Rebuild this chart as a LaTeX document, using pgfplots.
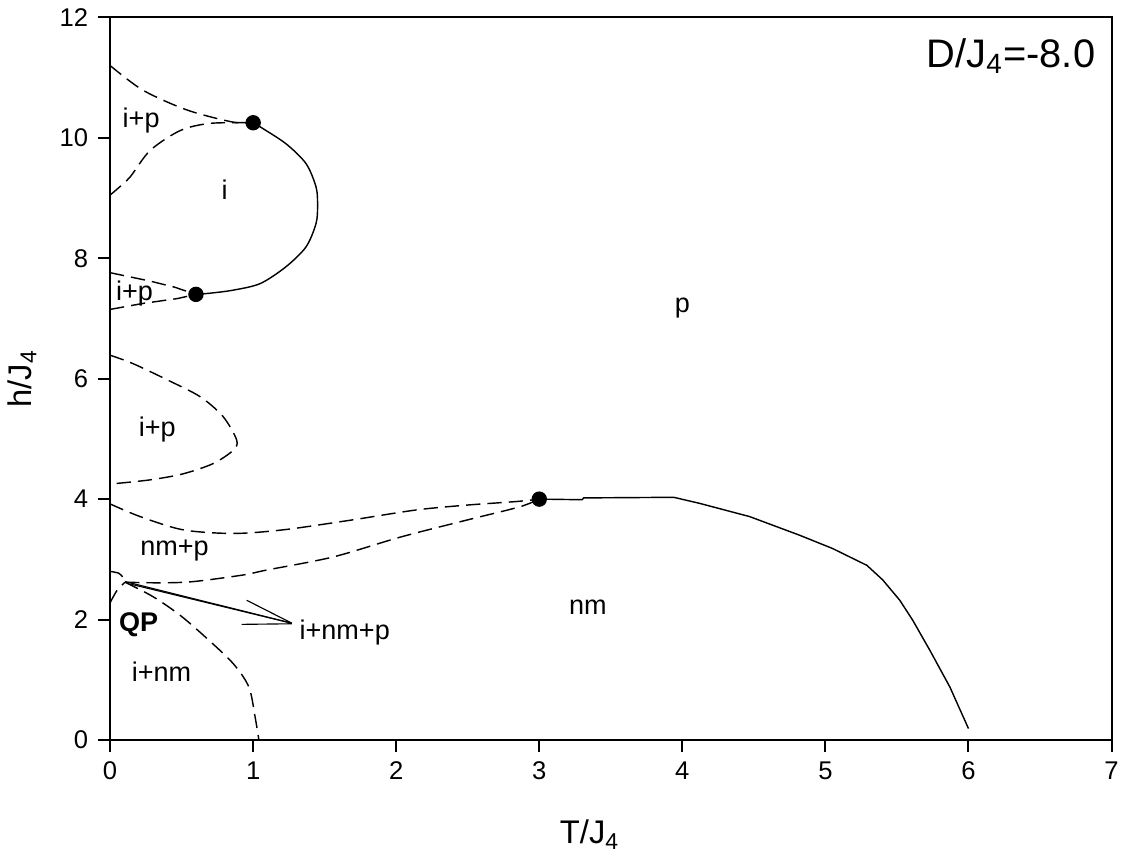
\documentclass[border=0pt]{standalone}
\usepackage{fontspec}
\setmainfont{Liberation Sans}
\usepackage{pgfplots}
\pgfplotsset{compat=1.18}
\begin{document}
\begin{tikzpicture}[
  dsh/.style={black, line width=0.5pt, dash pattern=on 5pt off 2.5pt},
  sol/.style={black, line width=0.5pt},
  lab/.style={font=\fontsize{9.5}{11}\selectfont, inner sep=0pt, anchor=center}]
\begin{axis}[
  scale only axis, width=352pt, height=254pt,
  xmin=0, xmax=7, ymin=0, ymax=12,
  xtick={0,1,...,7}, ytick={0,2,...,12},
  tick align=outside, tick pos=left, major tick length=4.2pt,
  axis line style={line width=0.7pt},
  every tick/.style={line width=0.7pt, black},
  /pgf/number format/assume math mode=true,
  ticklabel style={font=\fontsize{9}{10}\selectfont},
  xlabel={T/J\textsubscript{4}}, ylabel={h/J\textsubscript{4}},
  label style={font=\fontsize{11.5}{13}\selectfont},
  xlabel style={at={(axis description cs:0.479,-0.131)}, anchor=center},
  ylabel style={at={(axis description cs:-0.088,0.5)}, anchor=center},
  clip=false,
]
% top i+p upper boundary
\addplot[dsh, smooth] coordinates {(0,11.2) (0.23,10.79) (0.54,10.46) (0.86,10.26) (1.0,10.25)};
% top i+p lower boundary
\addplot[dsh, smooth] coordinates {(0,9.05) (0.05,9.15) (0.14,9.35) (0.28,9.79) (0.49,10.12) (0.70,10.24) (1.0,10.25)};
% i loop
\addplot[sol, smooth] coordinates {(1.0,10.25) (1.05,10.18) (1.23,9.90) (1.37,9.57) (1.44,9.18) (1.45,8.88) (1.44,8.58) (1.37,8.19) (1.23,7.86) (1.05,7.58) (0.86,7.47) (0.70,7.42) (0.6,7.4)};
% lower i+p
\addplot[dsh] coordinates {(0,7.76) (0.28,7.62) (0.45,7.52) (0.6,7.4)};
\addplot[dsh] coordinates {(0,7.15) (0.23,7.25) (0.47,7.33) (0.6,7.4)};
% middle i+p
\addplot[dsh, smooth] coordinates {(0,6.39) (0.16,6.25) (0.40,5.98) (0.63,5.70) (0.79,5.37) (0.885,4.98) (0.86,4.81) (0.72,4.59) (0.51,4.42) (0.28,4.32) (0,4.25)};
% nm+p upper
\addplot[dsh, smooth] coordinates {(0,3.92) (0.21,3.71) (0.51,3.49) (0.86,3.43) (1.21,3.49) (1.68,3.65) (2.14,3.82) (2.49,3.90) (2.84,3.96) (3.0,4.0)};
% nm+p lower
\addplot[dsh, smooth] coordinates {(0.105,2.62) (0.35,2.61) (0.58,2.63) (0.93,2.74) (1.09,2.82) (1.56,3.04) (2.03,3.37) (2.49,3.65) (2.86,3.87) (3.0,4.0)};
% QP small boundaries
\addplot[dsh, smooth] coordinates {(0,2.80) (0.06,2.77) (0.09,2.70) (0.105,2.62)};
\addplot[dsh, smooth] coordinates {(0,2.28) (0.05,2.49) (0.105,2.62)};
% i+nm boundary
\addplot[dsh, smooth] coordinates {(0.105,2.62) (0.30,2.38) (0.49,2.07) (0.675,1.69) (0.86,1.27) (0.97,0.88) (1.013,0.39) (1.04,0)};
% nm boundary (solid)
\addplot[sol] coordinates {(3.0,4.0) (3.3,3.99) (3.31,4.02) (3.94,4.03) (4.12,3.93) (4.47,3.71) (4.82,3.40) (5.05,3.18) (5.29,2.90) (5.40,2.66) (5.52,2.32) (5.61,1.99) (5.73,1.49) (5.87,0.88) (6.00,0.19)};
% annotation lines
\addplot[sol, line width=0.4pt] coordinates {(0.105,2.63) (1.27,1.94)};
\addplot[sol, line width=0.4pt] coordinates {(0.14,2.59) (1.25,1.95)};
\addplot[sol, line width=0.4pt] coordinates {(0.955,2.32) (1.27,1.94)};
\addplot[sol, line width=0.4pt] coordinates {(0.92,1.92) (1.27,1.93)};
% critical points
\addplot[only marks, mark=*, mark size=2.5pt, black] coordinates {(1.0,10.25) (0.6,7.4) (3.0,4.0)};
% labels
\node[lab] at (axis cs:0.217,10.29) {i+p};
\node[lab] at (axis cs:0.80,9.13) {i};
\node[lab] at (axis cs:0.17,7.42) {i+p};
\node[lab] at (axis cs:4.0,7.17) {p};
\node[lab] at (axis cs:0.33,5.15) {i+p};
\node[lab] at (axis cs:0.45,3.15) {nm+p};
\node[lab, font=\fontsize{9.5}{11}\selectfont\bfseries] at (axis cs:0.20,1.91) {QP};
\node[lab] at (axis cs:0.36,1.13) {i+nm};
\node[lab] at (axis cs:1.64,1.79) {i+nm+p};
\node[lab] at (axis cs:3.34,2.2) {nm};
\node[font=\fontsize{14}{16}\selectfont, inner sep=0pt, anchor=base east] at (axis cs:6.89,11.17) {D/J\textsubscript{4}=-8.0};
\end{axis}
\pgfresetboundingbox
\useasboundingbox (-38.7pt,-43.6pt) rectangle (361.3pt,260.1pt);
\end{tikzpicture}
\end{document}
